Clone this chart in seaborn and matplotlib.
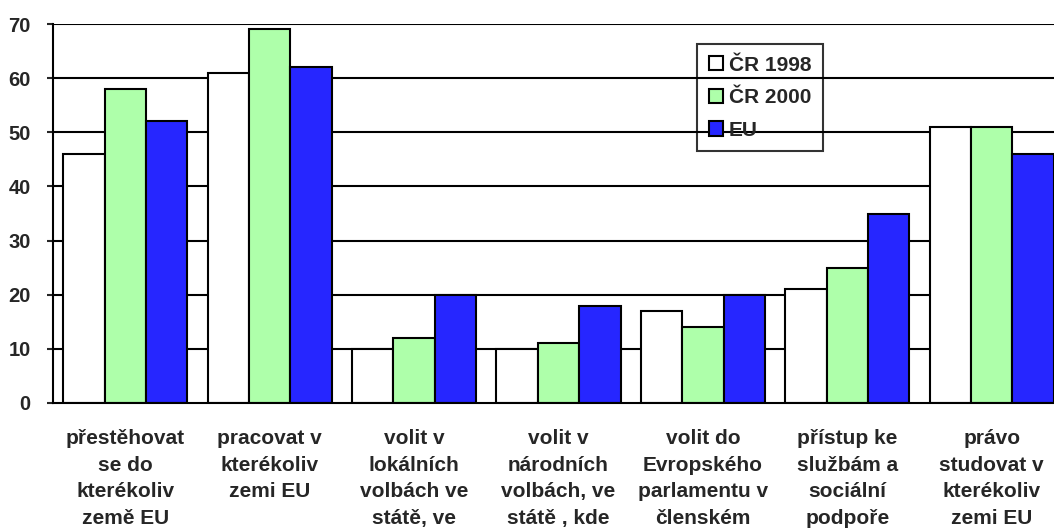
import matplotlib
matplotlib.use('Agg')
import matplotlib.pyplot as plt
import seaborn as sns
import pandas as pd
import numpy as np
from matplotlib.patches import Patch

# data
categories = [
    'přestěhovat\nse do\nkterékoliv\nzemě EU',
    'pracovat v\nkterékoliv\nzemi EU',
    'volit v\nlokálních\nvolbách ve\nstátě, ve',
    'volit v\nnárodních\nvolbách, ve\nstátě , kde',
    'volit do\nEvropského\nparlamentu v\nčlenském',
    'přístup ke\nslužbám a\nsociální\npodpoře',
    'právo\nstudovat v\nkterékoliv\nzemi EU',
]
series = ['ČR 1998', 'ČR 2000', 'EU']
cr1998 = [46, 61, 10, 10, 17, 21, 51]
cr2000 = [58, 69, 12, 11, 14, 25, 51]
eu = [52, 62, 20, 18, 20, 35, 46]
colors = ['#FFFFFF', '#AEFFAA', '#2626FF']
yticks = [0, 10, 20, 30, 40, 50, 60, 70]

sns.set_style('white')
plt.rcParams['font.family'] = ['Liberation Sans', 'DejaVu Sans']
plt.rcParams['font.weight'] = 'bold'

rows = []
for s, vals in zip(series, [cr1998, cr2000, eu]):
    for i, v in enumerate(vals):
        rows.append({'cat': i, 'series': s, 'value': v})
df = pd.DataFrame(rows)

fig = plt.figure(figsize=(10.54, 5.28), dpi=100)
ax = fig.add_axes([53 / 1054, 1 - 403 / 528, 1011 / 1054, (403 - 24) / 528])

sns.barplot(data=df, x='cat', y='value', hue='series', hue_order=series,
            palette=colors, width=0.86, edgecolor='black', linewidth=1.5,
            saturation=1, ax=ax, zorder=3, legend=False)

ax.set_ylim(0, 70)
ax.set_xlim(-0.5, 6.5)
ax.set_yticks(yticks)
ax.set_yticklabels([str(t) for t in yticks], fontsize=14.5, fontweight='bold')
for t in yticks[1:]:
    ax.axhline(t, color='black', lw=1.5, zorder=1)

# ticks at group boundaries, labels at group centres
ax.set_xticks(np.arange(0.5, 6.5, 1.0))
ax.set_xticklabels([])
ax.set_xticks(np.arange(7), minor=True)
ax.set_xticklabels(categories, minor=True, fontsize=15, fontweight='bold',
                   linespacing=1.5, va='top')
ax.tick_params(axis='x', which='major', direction='inout', length=9, width=1.5)
ax.tick_params(axis='x', which='minor', length=0, pad=19)
ax.tick_params(axis='y', direction='out', length=4, width=1.5, pad=12, left=True)
ax.set_xlabel('')
ax.set_ylabel('')

for side in ['top', 'right']:
    ax.spines[side].set_visible(False)
for side in ['left', 'bottom']:
    ax.spines[side].set_linewidth(1.5)
    ax.spines[side].set_color('black')
    ax.spines[side].set_zorder(4)

handles = [Patch(facecolor=c, edgecolor='black', linewidth=1.5) for c in colors]
leg = fig.legend(handles, series, loc='upper left',
                 bbox_to_anchor=(697 / 1054, 1 - 44 / 528),
                 prop={'weight': 'bold', 'size': 15},
                 handlelength=0.67, handleheight=0.67, handletextpad=0.3,
                 labelspacing=0.65, borderpad=0.56, borderaxespad=0,
                 fancybox=False, edgecolor='black')
leg.get_frame().set_facecolor('none')
leg.get_frame().set_linewidth(1.5)

fig.savefig('out.png', dpi=100)
